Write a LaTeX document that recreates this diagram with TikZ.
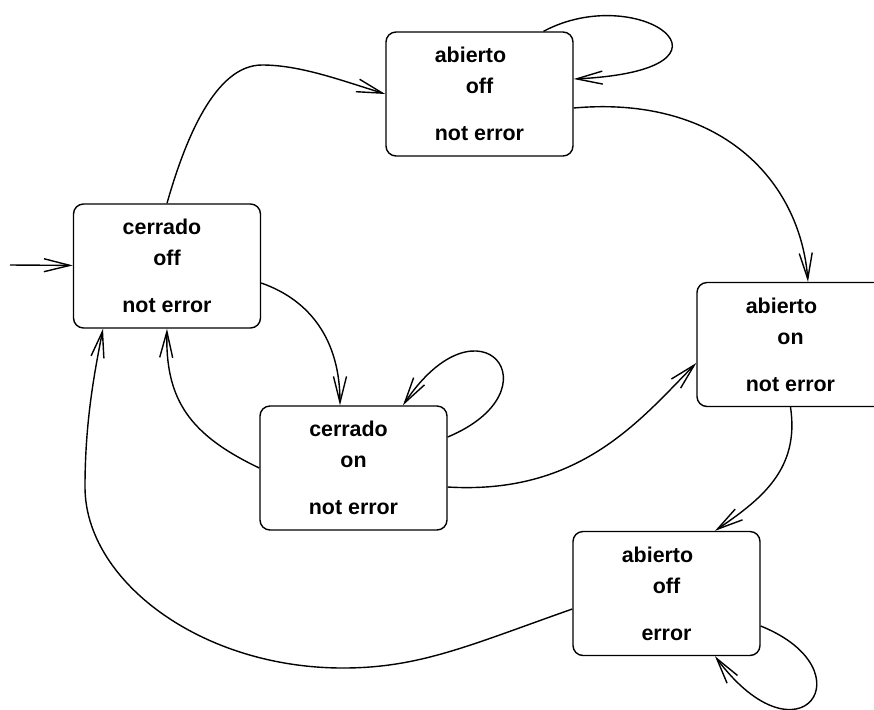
\documentclass[tikz,border=0pt]{standalone}
\usepackage{fontspec}
\setmainfont{Liberation Sans}
\usetikzlibrary{arrows.meta}
\begin{document}
\begin{tikzpicture}[x=0.5pt, y=-0.5pt, line width=0.7pt, >={Straight Barb[length=13pt,width=6.5pt]},
    main/.style = {draw, rounded corners=5pt, minimum width=93.5pt, minimum height=62pt, align=center, font=\fontsize{10.7}{15.5}\selectfont\bfseries}]
    \useasboundingbox (0,0) rectangle (874,709);
    % Disegna gli stati

    \node[main] (1) at (167,266) {\hbox{cerrado\kern5pt}\\off\\[8pt]not error};
    \node[main] (2) at (479.5,94) {\hbox{abierto\kern9pt}\\off\\[8pt]not error};
    \node[main] (3) at (353.5,468) {\hbox{cerrado\kern5pt}\\on\\[8pt]not error};
    \node[main] (4) at (790.5,344.5) {\hbox{abierto\kern9pt}\\on\\[8pt]not error};
    \node[main] (5) at (666.5,593.5) {\hbox{abierto\kern9pt}\\off\\[8pt]error};
    \coordinate (0) at (10,265);

    \draw[->] (0) to (1);
    \draw[->] (1.north) .. controls (185,140) and (215,65) .. (262,65) .. controls (300,65) and (340,80) .. (2.west);
    \draw[->] ([xshift=32pt]2.north) .. controls (640,-20) and (760,70) .. ([yshift=7.5pt]2.east);
    \draw[->] ([yshift=-7pt]2.east) .. controls (720,95) and (800,180) .. ([xshift=8.75pt]4.north);
    \draw[->] ([yshift=-8.5pt]1.east) .. controls (310,300) and (340,340) .. ([xshift=-6.75pt]3.north);
    \draw[->] (3.west) .. controls (190,435) and (165,400) .. (1.south);
    \draw[->] ([yshift=15.5pt]3.east) .. controls (560,390) and (480,290) .. ([xshift=24.75pt]3.north);
    \draw[->] ([yshift=-9.5pt]3.east) .. controls (580,495) and (640,420) .. ([yshift=-9.25pt]4.west);
    \draw[->] (4.south) .. controls (800,470) and (760,500) .. ([xshift=24.25pt]5.north);
    \draw[->] ([yshift=-7.75pt]5.west) .. controls (470,645) and (420,668) .. (343,668)
        .. controls (200,668) and (85,580) .. (85,487) .. controls (85,420) and (95,370) .. ([xshift=-32pt]1.south);
    \draw[->] ([yshift=-16.25pt]5.east) .. controls (870,670) and (800,770) .. ([xshift=24.25pt]5.south);

\end{tikzpicture}
\end{document}
